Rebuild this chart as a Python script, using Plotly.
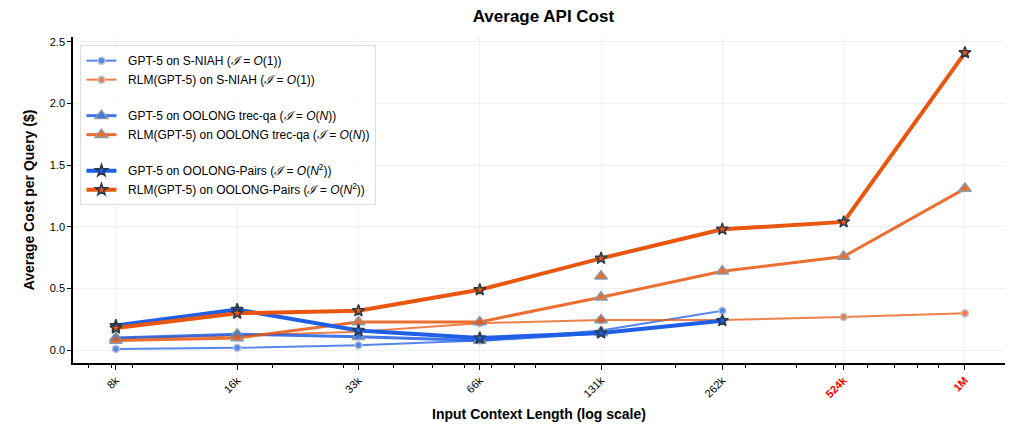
import plotly.graph_objects as go


ctx_len = [8192, 16384, 32768, 65536, 131072, 262144, 524288, 1048576]
ctx_labels = ["8k", "16k", "33k", "66k", "131k", "262k", "524k", "1M"]
red_labels = ["524k", "1M"]

gpt5_sniah = [0.01, 0.02, 0.04, 0.08, 0.16, 0.32]
rlm_sniah = [0.10, 0.12, 0.15, 0.22, 0.245, 0.245, 0.27, 0.30]

gpt5_trec = [0.10, 0.13, 0.11, 0.08, 0.14]
rlm_trec = [0.08, 0.10, 0.23, 0.23, 0.43, 0.64, 0.76, 1.31]

gpt5_pairs = [0.20, 0.33, 0.16, 0.10, 0.14, 0.24]
rlm_pairs = [0.18, 0.30, 0.32, 0.49, 0.745, 0.98, 1.04, 2.41]

# stray trec-qa points at 131k
extra_x = [131072, 131072]
extra_y = [0.60, 0.245]

minor_ticks = [7000, 8000, 9000] + [k * 10000 for k in range(2, 10)] + [k * 100000 for k in range(2, 10)]

BLUE = "#1f5fe6"
ORANGE = "#e9560f"
PAD = "\u00a0\u00a0"

fig = go.Figure()


def add_line(name, x, y, color, width, opacity, symbol, size, edge, edgew, group):
    fig.add_scatter(
        name=PAD + name,
        x=x,
        y=y,
        mode="lines+markers",
        line=dict(color=color, width=width),
        marker=dict(symbol=symbol, size=size, color=color,
                    line=dict(color=edge, width=edgew)),
        opacity=opacity,
        legendgroup=group,
    )


add_line("GPT-5 on S-NIAH (<i>ℐ</i> = <i>O</i>(1))", ctx_len[:len(gpt5_sniah)], gpt5_sniah,
         BLUE, 2, 0.75, "circle", 7, "#a9b4c2", 1.5, "a")
add_line("RLM(GPT-5) on S-NIAH (<i>ℐ</i> = <i>O</i>(1))", ctx_len, rlm_sniah,
         ORANGE, 2, 0.75, "circle", 7, "#a9b4c2", 1.5, "a")

add_line("GPT-5 on OOLONG trec-qa (<i>ℐ</i> = <i>O</i>(<i>N</i>))", ctx_len[:len(gpt5_trec)], gpt5_trec,
         BLUE, 3, 0.85, "triangle-up", 11, "#778899", 1.5, "b")
add_line("RLM(GPT-5) on OOLONG trec-qa (<i>ℐ</i> = <i>O</i>(<i>N</i>))", ctx_len, rlm_trec,
         ORANGE, 3, 0.85, "triangle-up", 11, "#778899", 1.5, "b")

fig.add_scatter(
    x=extra_x,
    y=extra_y,
    mode="markers",
    marker=dict(symbol="triangle-up", size=11, color=ORANGE,
                line=dict(color="#778899", width=1.5)),
    opacity=0.85,
    showlegend=False,
    hoverinfo="skip",
)

add_line("GPT-5 on OOLONG-Pairs (<i>ℐ</i> = <i>O</i>(<i>N</i><sup>2</sup>))", ctx_len[:len(gpt5_pairs)], gpt5_pairs,
         BLUE, 4, 1, "star", 9, "#2b3a4a", 1.5, "c")
add_line("RLM(GPT-5) on OOLONG-Pairs (<i>ℐ</i> = <i>O</i>(<i>N</i><sup>2</sup>))", ctx_len, rlm_pairs,
         ORANGE, 4, 1, "star", 9, "#2b3a4a", 1.5, "c")

tick_text = [f"<span style='color:red'><b>{t}</b></span>" if t in red_labels else t for t in ctx_labels]

# page body has an 8px margin, so the figure is a little smaller than the window
fig.update_layout(
    title=dict(text="<b>Average API Cost</b>", x=0.527, xanchor="center", y=0.981, yanchor="middle",
               font=dict(size=17, color="black")),
    font=dict(family="Liberation Sans, Arial, sans-serif", size=11, color="black"),
    width=1016,
    height=419,
    margin=dict(l=65, r=19, t=29, b=64),
    plot_bgcolor="white",
    paper_bgcolor="white",
    legend=dict(
        x=0.008,
        y=0.975,
        xanchor="left",
        yanchor="top",
        traceorder="grouped",
        tracegroupgap=17,
        bgcolor="rgba(255,255,255,0.8)",
        bordercolor="#dddddd",
        borderwidth=1,
        font=dict(size=12),
    ),
)

fig.update_xaxes(
    type="log",
    range=[3.807, 6.12],
    automargin=False,
    tickmode="array",
    tickvals=ctx_len,
    ticktext=tick_text,
    tickangle=-45,
    ticks="outside",
    ticklen=5,
    tickcolor="black",
    showline=True,
    linecolor="black",
    linewidth=1.5,
    showgrid=True,
    gridcolor="#f0f0f0",
    zeroline=False,
    minor=dict(tickvals=minor_ticks, ticks="outside", ticklen=3, tickcolor="black", showgrid=False),
    title=dict(text="<b>Input Context Length (log scale)</b>", font=dict(size=14), standoff=10),
)

fig.update_yaxes(
    range=[-0.103, 2.538],
    automargin=False,
    tickvals=[0, 0.5, 1.0, 1.5, 2.0, 2.5],
    tickformat=".1f",
    ticks="outside",
    ticklen=4,
    tickcolor="black",
    showline=True,
    linecolor="black",
    linewidth=1.5,
    showgrid=True,
    gridcolor="#f0f0f0",
    zeroline=False,
    title=dict(text="<b>Average Cost per Query ($)</b>", font=dict(size=14), standoff=12),
)

fig.write_html("out.html")
